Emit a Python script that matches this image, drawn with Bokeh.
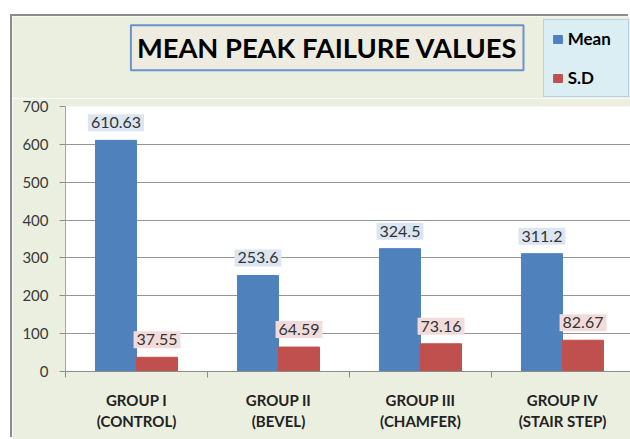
from bokeh.plotting import figure
from bokeh.models import Range1d, FixedTicker, Label, Spacer
from bokeh.layouts import column, row
from bokeh.embed import file_html
from bokeh.resources import INLINE

# ---- data ----
groups = ["GROUP I\n(CONTROL)", "GROUP II\n(BEVEL)", "GROUP III\n(CHAMFER)", "GROUP IV\n(STAIR STEP)"]
mean_values = [610.63, 253.6, 324.5, 311.2]
sd_values = [37.55, 64.59, 73.16, 82.67]
mean_labels = ["610.63", "253.6", "324.5", "311.2"]
sd_labels = ["37.55", "64.59", "73.16", "82.67"]
y_ticks = [0, 100, 200, 300, 400, 500, 600, 700]
series_names = ["Mean", "S.D"]
title_text = "MEAN PEAK FAILURE VALUES"

# ---- styling ----
MEAN_COLOR = "#4F81BD"
SD_COLOR = "#C0504D"
BAR_W = 0.289
OUTER_BG = "#EBEFDF"
FONT = "Lato"
W = 618

n = len(groups)
centers = [i + 0.5 for i in range(n)]
bounds = [float(i) for i in range(n + 1)]
mean_x = [c - BAR_W / 2 for c in centers]
sd_x = [c + BAR_W / 2 for c in centers]

# ---------- header strip: title + legend ----------
top = figure(width=W, height=82, x_range=Range1d(0, 1), y_range=Range1d(0, 1),
             output_backend="svg", toolbar_location=None,
             x_axis_location=None, y_axis_location=None, min_border=0)
top.frame_align = False
top.xgrid.visible = False
top.ygrid.visible = False
top.background_fill_color = OUTER_BG
top.border_fill_color = OUTER_BG
top.outline_line_color = None

top.add_layout(Label(x=314.7, y=50.7, x_units="screen", y_units="screen",
                     text=title_text, text_align="center", text_baseline="middle",
                     text_font=FONT, text_font_style="bold", text_font_size="27.3px",
                     text_color="#000000",
                     padding=dict(left=6, right=6, top=6, bottom=6),
                     background_fill_color="#EEECE1",
                     border_line_color="#6A93CB", border_line_width=2))

# legend keys: the same series, hidden here, only used for the legend swatches
top.vbar(x=mean_x, top=mean_values, width=BAR_W, fill_color=MEAN_COLOR,
         line_color=MEAN_COLOR, legend_label=series_names[0], visible=False)
top.vbar(x=sd_x, top=sd_values, width=BAR_W, fill_color=SD_COLOR,
         line_color=SD_COLOR, legend_label=series_names[1], visible=False)
lg = top.legend[0]
lg.location = (530.7, 1)
lg.orientation = "vertical"
lg.background_fill_color = "#DBEEF3"
lg.background_fill_alpha = 1
lg.border_line_color = "#8DB3E2"
lg.border_line_width = 1.5
lg.padding = 8
lg.margin = 0
lg.spacing = 18
lg.glyph_width = 11
lg.glyph_height = 10
lg.label_height = 20
lg.label_width = 52
lg.label_standoff = 5
lg.label_text_font = FONT
lg.label_text_font_style = "bold"
lg.label_text_font_size = "17px"
lg.label_text_color = "#000000"

# ---------- main chart ----------
p = figure(width=W, height=341,
           x_range=Range1d(0, 3.979), y_range=Range1d(0, 700),
           output_backend="svg", toolbar_location=None,
           min_border_left=53, min_border_right=0,
           min_border_top=8, min_border_bottom=68)
p.frame_align = False
p.background_fill_color = "white"
p.border_fill_color = OUTER_BG
p.outline_line_color = None

p.vbar(x=mean_x, top=mean_values, width=BAR_W, fill_color=MEAN_COLOR,
       line_color=MEAN_COLOR)
p.vbar(x=sd_x, top=sd_values, width=BAR_W, fill_color=SD_COLOR,
       line_color=SD_COLOR)

p.xgrid.visible = False
p.ygrid.grid_line_color = "#969696"
p.ygrid.grid_line_width = 1

p.yaxis.ticker = FixedTicker(ticks=y_ticks)
p.yaxis.axis_line_color = "#A6A6A6"
p.yaxis.major_tick_line_color = "#8C8C8C"
p.yaxis.major_tick_out = 6
p.yaxis.major_tick_in = 0
p.yaxis.minor_tick_line_color = None
p.yaxis.major_label_standoff = 11
p.yaxis.major_label_text_font = FONT
p.yaxis.major_label_text_font_size = "15px"
p.yaxis.major_label_text_color = "#3A3A3A"

p.xaxis.ticker = FixedTicker(ticks=centers, minor_ticks=bounds)
p.xaxis.major_label_overrides = {c: g for c, g in zip(centers, groups)}
p.xaxis.axis_line_color = "#8C8C8C"
p.xaxis.major_tick_out = 0
p.xaxis.major_tick_in = 0
p.xaxis.minor_tick_out = 6
p.xaxis.minor_tick_in = 0
p.xaxis.minor_tick_line_color = "#8C8C8C"
p.xaxis.major_label_standoff = 13
p.xaxis.major_label_text_font = FONT
p.xaxis.major_label_text_font_style = "bold"
p.xaxis.major_label_text_font_size = "15px"
p.xaxis.major_label_text_color = "#222222"

for xs, vals, texts, bg in ((mean_x, mean_values, mean_labels, "#DCE6F2"),
                            (sd_x, sd_values, sd_labels, "#F2DCDB")):
    for x, v, t in zip(xs, vals, texts):
        p.add_layout(Label(x=x, y=v, text=t, text_align="center",
                           text_baseline="bottom", y_offset=9,
                           padding=dict(left=3, right=3, top=3, bottom=3),
                           background_fill_color=bg, text_font=FONT,
                           text_font_size="16px", text_color="#333333"))

inner = column(top, p, spacing=0,
               styles={"box-shadow": "-2px -2px 0 0 #8C8C8C"})
root = column(Spacer(height=16), row(Spacer(width=12), inner, spacing=0), spacing=0)

open("out.html", "w").write(file_html(root, INLINE))
